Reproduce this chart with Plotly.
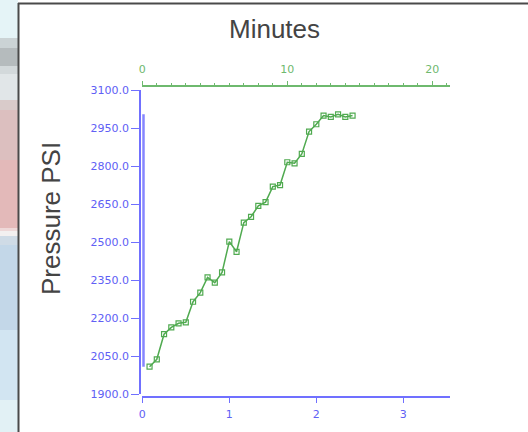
import plotly.graph_objects as go

# ---- data ----
minutes = [0.5, 1.0, 1.5, 2.0, 2.5, 3.0, 3.5, 4.0, 4.5, 5.0,
           5.5, 6.0, 6.5, 7.0, 7.5, 8.0, 8.5, 9.0, 9.5, 10.0,
           10.5, 11.0, 11.5, 12.0, 12.5, 13.0, 13.5, 14.0, 14.5]
pressure = [2009, 2038, 2137, 2164, 2180, 2184, 2265, 2301, 2361, 2340,
            2381, 2502, 2462, 2577, 2600, 2643, 2658, 2719, 2725, 2815,
            2811, 2848, 2936, 2965, 2999, 2994, 3004, 2994, 2999]

y_ticks = [1900, 2050, 2200, 2350, 2500, 2650, 2800, 2950, 3100]
top_ticks = [0, 10, 20]
bottom_ticks = [0, 1, 2, 3]

top_title = "Minutes"
left_title = "Pressure PSI"

# ---- styles ----
BLUE = "rgb(112,112,255)"
BLUE_TXT = "rgb(96,96,245)"
GREEN = "rgb(110,185,110)"
GREEN_LINE = "rgb(80,170,80)"
TICK_FONT = "DejaVu Sans"

W, H = 528, 432
L, R, T, B = 140, 78, 86, 35
PW, PH = W - L - R, H - T - B


def px2x(px):
    return (px - L) / PW


def px2y(py):
    return (H - B - py) / PH


fig = go.Figure()
# empty trace so the bottom (blue) axis gets its own subplot and is drawn
fig.add_trace(go.Scatter(x=[None], y=[None], xaxis="x", yaxis="y",
                         mode="markers", showlegend=False, hoverinfo="skip"))
fig.add_trace(go.Scatter(
    x=minutes, y=pressure, xaxis="x2", yaxis="y",
    mode="lines+markers",
    line=dict(color=GREEN_LINE, width=1.5),
    marker=dict(symbol="square-open", size=5, color=GREEN_LINE,
                line=dict(width=1.2, color=GREEN_LINE)),
    showlegend=False, hoverinfo="x+y",
))

x_dom = [px2x(142.3), 1]
fig.update_layout(
    width=W, height=H,
    margin=dict(l=L, r=R, t=T, b=B, pad=0),
    paper_bgcolor="white", plot_bgcolor="white",
    xaxis=dict(
        domain=x_dom, anchor="free", position=0,
        range=[0, 3.537], tickvals=bottom_ticks,
        showgrid=False, zeroline=False, showline=True,
        linecolor=BLUE, linewidth=1.5,
        ticks="outside", ticklen=5, tickcolor=BLUE, tickwidth=1.2,
        tickfont=dict(family=TICK_FONT, size=11, color=BLUE_TXT),
        ticklabelstandoff=2,
    ),
    xaxis2=dict(
        domain=x_dom, anchor="free", position=1, overlaying="x",
        side="top",
        range=[0, 21.22], tickvals=top_ticks,
        showgrid=False, zeroline=False, showline=True,
        linecolor=GREEN, linewidth=1.5,
        ticks="outside", ticklen=4, tickcolor=GREEN, tickwidth=1.2,
        minor=dict(dtick=1, ticks="outside", ticklen=2, tickcolor=GREEN,
                   tickwidth=1),
        tickfont=dict(family=TICK_FONT, size=11, color=GREEN),
        ticklabelstandoff=4,
    ),
    yaxis=dict(
        domain=[px2y(394.3), px2y(90)], anchor="free", position=0,
        range=[1900, 3100], tickvals=y_ticks, tickformat=".1f",
        showgrid=False, zeroline=False, showline=True,
        linecolor=BLUE, linewidth=1.5,
        ticks="outside", ticklen=8, tickcolor=BLUE, tickwidth=1.2,
        tickfont=dict(family=TICK_FONT, size=11, color=BLUE_TXT),
        ticklabelstandoff=0,
    ),
)

# data-range indicator bar beside the y axis
fig.add_shape(type="line", xref="paper", yref="y",
              x0=px2x(143.5), x1=px2x(143.5),
              y0=min(pressure), y1=max(pressure),
              line=dict(color="rgba(112,112,255,0.85)", width=2.5))

# left background strip (blurred page behind the panel)
strip = [
    (0, 38, "#e5f4f7"), (38, 48, "#cbd3d5"), (48, 66, "#b5bbbd"),
    (66, 74, "#d3d9db"), (74, 100, "#e1e6e8"), (100, 110, "#d9cbca"),
    (110, 160, "#dcbfbf"), (160, 228, "#e3b9b9"), (228, 231, "#eed8d8"),
    (231, 236, "#f3f0f0"), (236, 245, "#cfdbe6"), (245, 330, "#c3d7e8"),
    (330, 400, "#d2e5f2"), (400, 432, "#e2f1f5"),
]
for y0, y1, c in strip:
    fig.add_shape(type="rect", xref="paper", yref="paper", layer="below",
                  x0=px2x(0), x1=px2x(18), y0=px2y(y1), y1=px2y(y0),
                  fillcolor=c, line=dict(width=0))

# panel border
fig.add_shape(type="line", xref="paper", yref="paper",
              x0=px2x(18.5), x1=px2x(18.5), y0=px2y(432), y1=px2y(3),
              line=dict(color="#4a4a4a", width=2))
fig.add_shape(type="line", xref="paper", yref="paper",
              x0=px2x(18), x1=px2x(528), y0=px2y(3.5), y1=px2y(3.5),
              line=dict(color="#4a4a4a", width=2))

fig.add_annotation(text=top_title, xref="paper", yref="paper",
                   x=px2x(274.5), y=px2y(29.5), showarrow=False,
                   xanchor="center", yanchor="middle",
                   font=dict(family="Liberation Sans", size=26, color="#444444"))
fig.add_annotation(text=left_title, xref="paper", yref="paper",
                   x=px2x(51), y=px2y(219), showarrow=False, textangle=-90,
                   xanchor="center", yanchor="middle",
                   font=dict(family="Liberation Sans", size=26, color="#444444"))

fig.write_html("out.html")
